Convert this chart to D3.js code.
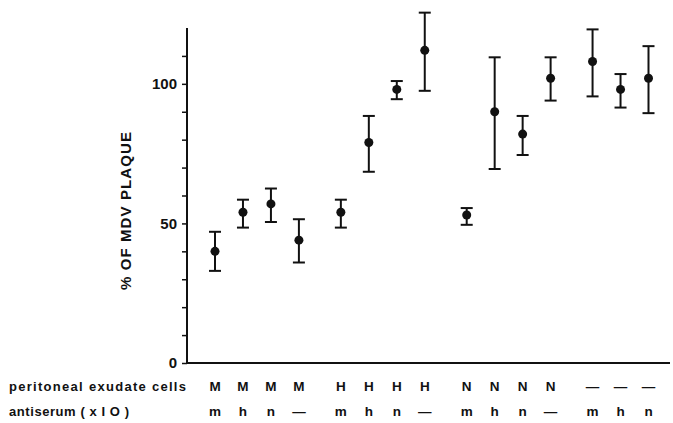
<!DOCTYPE html>
<html>
<head>
<meta charset="utf-8">
<script src="https://cdn.jsdelivr.net/npm/d3@7"></script>
<style>
  body { margin: 0; background: #fff; }
  text { font-family: "Liberation Sans", Arial, sans-serif; font-weight: bold; fill: #111; }
</style>
</head>
<body>
<div id="chart"></div>
<script>
// cells group (M, H, N, -) and antiserum letter for each point
var cells = ["M","M","M","M","H","H","H","H","N","N","N","N","\u2014","\u2014","\u2014"];
var antiserum = ["m","h","n","\u2014","m","h","n","\u2014","m","h","n","\u2014","m","h","n"];
var means = [40, 54, 57, 44, 54, 79, 98, 112, 53, 90, 82, 102, 108, 98, 102];
var upper = [47, 58.5, 62.5, 51.5, 58.5, 88.5, 101, 125.5, 55.5, 109.5, 88.5, 109.5, 119.5, 103.5, 113.5];
var lower = [33, 48.5, 50.5, 36, 48.5, 68.5, 94.5, 97.5, 49.5, 69.5, 74.5, 94, 95.5, 91.5, 89.5];
var yTicks = [0, 10, 20, 30, 40, 50, 60, 70, 80, 90, 100, 110];
var yLabels = [0, 50, 100];

var width = 673, height = 423;
var svg = d3.select("#chart").append("svg")
  .attr("width", width)
  .attr("height", height);

// slot position: groups of 4 with a wider gap between groups
function slot(i) {
  var g = Math.floor(i / 4);
  return g * 4.5 + (i % 4);
}

var x = d3.scaleLinear().domain([0, 15.5]).range([215, 648.5]);
var y = d3.scaleLinear().domain([0, 120]).range([363, 28]);

var axisX = 187;

// y axis
svg.append("g")
  .attr("transform", "translate(" + axisX + ",0)")
  .call(d3.axisLeft(y)
    .tickValues(yTicks)
    .tickSize(5)
    .tickPadding(5)
    .tickFormat(function(d) { return yLabels.indexOf(d) >= 0 ? d : ""; }))
  .call(function(g) {
    g.select(".domain").attr("stroke", "#111").attr("stroke-width", 2)
      .attr("d", "M0," + y(0) + "V" + y(120));
    g.selectAll(".tick line").attr("stroke", "#111").attr("stroke-width", 1.5);
    g.selectAll(".tick text").attr("font-size", 15).attr("fill", "#111")
      .attr("font-family", "Liberation Sans, Arial, sans-serif").attr("font-weight", "bold");
  });

// x axis line
svg.append("line")
  .attr("x1", axisX - 1).attr("x2", 670)
  .attr("y1", y(0)).attr("y2", y(0))
  .attr("stroke", "#111").attr("stroke-width", 2);

// y axis title
svg.append("text")
  .attr("transform", "translate(131,211) rotate(-90)")
  .attr("text-anchor", "middle")
  .attr("font-size", 15)
  .attr("textLength", 158)
  .attr("lengthAdjust", "spacing")
  .text("% OF MDV PLAQUE");

var data = means.map(function(m, i) {
  return { i: i, mean: m, hi: upper[i], lo: lower[i] };
});

var bars = svg.append("g").selectAll("g").data(data).enter().append("g")
  .attr("stroke", "#111")
  .attr("stroke-width", 2);

bars.append("line")
  .attr("x1", function(d) { return x(slot(d.i)); })
  .attr("x2", function(d) { return x(slot(d.i)); })
  .attr("y1", function(d) { return y(d.hi); })
  .attr("y2", function(d) { return y(d.lo); });

bars.append("line")
  .attr("x1", function(d) { return x(slot(d.i)) - 6; })
  .attr("x2", function(d) { return x(slot(d.i)) + 6; })
  .attr("y1", function(d) { return y(d.hi); })
  .attr("y2", function(d) { return y(d.hi); });

bars.append("line")
  .attr("x1", function(d) { return x(slot(d.i)) - 6; })
  .attr("x2", function(d) { return x(slot(d.i)) + 6; })
  .attr("y1", function(d) { return y(d.lo); })
  .attr("y2", function(d) { return y(d.lo); });

svg.append("g").selectAll("circle").data(data).enter().append("circle")
  .attr("cx", function(d) { return x(slot(d.i)); })
  .attr("cy", function(d) { return y(d.mean); })
  .attr("r", 4.5)
  .attr("fill", "#111");

// category rows
svg.append("text").attr("x", 9).attr("y", 391).attr("font-size", 13)
  .attr("textLength", 177).attr("lengthAdjust", "spacing")
  .text("peritoneal exudate cells");
svg.append("text").attr("x", 9).attr("y", 416).attr("font-size", 13)
  .attr("textLength", 120).attr("lengthAdjust", "spacing")
  .text("antiserum ( x I O )");

svg.append("g").selectAll("text").data(cells).enter().append("text")
  .attr("x", function(d, i) { return x(slot(i)); })
  .attr("y", 391)
  .attr("text-anchor", "middle")
  .attr("font-size", 13.5)
  .text(function(d) { return d; });

svg.append("g").selectAll("text").data(antiserum).enter().append("text")
  .attr("x", function(d, i) { return x(slot(i)); })
  .attr("y", 416)
  .attr("text-anchor", "middle")
  .attr("font-size", 13.5)
  .text(function(d) { return d; });
</script>
</body>
</html>
